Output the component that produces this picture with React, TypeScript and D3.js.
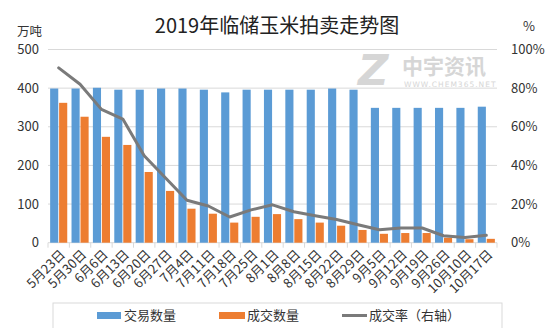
import React from "react";
import * as d3 from "d3";

const categories = ["5月23日","5月30日","6月6日","6月13日","6月20日","6月27日","7月4日","7月11日","7月18日","7月25日","8月1日","8月8日","8月15日","8月22日","8月29日","9月5日","9月12日","9月19日","9月26日","10月10日","10月17日"];
const tradeVolume = [399, 399, 401, 396, 396, 399, 399, 396, 389, 396, 396, 396, 396, 399, 396, 349, 349, 349, 349, 349, 352];
const dealVolume = [362, 326, 274, 253, 183, 134, 88, 75, 52, 67, 74, 61, 52, 44, 33, 23, 25, 25, 13, 9, 10];
const dealRate = [90.5, 82, 69, 64, 45, 33.5, 22, 19, 13.3, 17, 19.6, 16, 14, 12, 9.3, 6.7, 7.6, 7.6, 3.6, 2.7, 3.8];
const leftTicks = [0, 100, 200, 300, 400, 500];
const rightTicks = [0, 20, 40, 60, 80, 100];

const FONT = "'Noto Sans CJK SC', 'Noto Sans', sans-serif";
const BLUE = "#5b9bd5";
const ORANGE = "#ed7d31";
const GRAY = "#7a7a7a";
const GRID = "#d9d9d9";

export default function App() {
  const W = 554, H = 328;
  const x0 = 48, x1 = 497, yTop = 49.5, yBot = 242.7;
  const x = d3.scaleBand<string>().domain(categories).range([x0, x1]).paddingInner(0).paddingOuter(0);
  const yL = d3.scaleLinear().domain([0, 500]).range([yBot, yTop]);
  const yR = d3.scaleLinear().domain([0, 100]).range([yBot, yTop]);
  const bw = x.bandwidth();
  const barW = bw * 0.38;
  const line = d3.line<number>()
    .x((_, i) => (x(categories[i]) as number) + bw / 2)
    .y((d) => yR(d));

  return (
    <svg width={W} height={H} style={{ position: "absolute", left: 0, top: 0, fontFamily: FONT }}>
      <rect x={0} y={0} width={W} height={H} fill="#fff" />
      {/* title */}
      <text x={277} y={33} textAnchor="middle" fontSize={20} fill="#222">2019年临储玉米拍卖走势图</text>
      <text x={17} y={35.5} fontSize={12.5} fill="#333">万吨</text>
      <text x={523} y={31} fontSize={13} fill="#333">%</text>
      {/* gridlines */}
      {leftTicks.map((t) => (
        <line key={"g" + t} x1={x0} x2={x1} y1={yL(t)} y2={yL(t)} stroke={GRID} strokeWidth={1} />
      ))}
      {/* watermark */}
      <g fill="#d2d2d2" opacity={0.9}>
        <text x={358} y={85} fontSize={42} fontWeight={900} fontStyle="italic" fontFamily="'DejaVu Sans', sans-serif">Z</text>
        <text x={402} y={74} fontSize={21} fontWeight={700}>中宇资讯</text>
        <text x={404} y={87} fontSize={7.5} letterSpacing={1} fontFamily="'DejaVu Sans', sans-serif">WWW.CHEM365.NET</text>
      </g>
      {/* left labels */}
      {leftTicks.map((t) => (
        <text key={"l" + t} x={39} y={yL(t)} dy="0.35em" textAnchor="end" fontSize={13} fill="#333">{t}</text>
      ))}
      {rightTicks.map((t) => (
        <text key={"r" + t} x={511} y={yR(t)} dy="0.35em" textAnchor="start" fontSize={13} fill="#333">{t + "%"}</text>
      ))}
      {/* bars */}
      {categories.map((c, i) => {
        const bx = x(c) as number;
        return (
          <g key={c}>
            <rect x={bx + bw * 0.1} y={yL(tradeVolume[i])} width={barW} height={yBot - yL(tradeVolume[i])} fill={BLUE} />
            <rect x={bx + bw * 0.52} y={yL(dealVolume[i])} width={barW} height={yBot - yL(dealVolume[i])} fill={ORANGE} />
          </g>
        );
      })}
      {/* axis ticks */}
      {categories.concat([""]).map((c, i) => {
        const tx = x0 + i * bw;
        return <line key={"t" + i} x1={tx} x2={tx} y1={yBot} y2={yBot + 5} stroke={GRID} />;
      })}
      <path d={line(dealRate) || ""} fill="none" stroke={GRAY} strokeWidth={3} strokeLinejoin="round" strokeLinecap="round" />
      {/* x labels */}
      {categories.map((c) => {
        const cx = (x(c) as number) + bw / 2 + 4;
        const cy = 252;
        return (
          <text key={"x" + c} transform={`translate(${cx},${cy}) rotate(-45)`} textAnchor="end" dy="0.35em" fontSize={13} fill="#333">{c}</text>
        );
      })}
      {/* legend */}
      <rect x={53} y={303} width={449} height={40} fill="none" stroke={GRID} />
      <rect x={97} y={312} width={24} height={7} fill={BLUE} />
      <text x={124} y={315.5} dy="0.35em" fontSize={13} fill="#333">交易数量</text>
      <rect x={219} y={312} width={26} height={7} fill={ORANGE} />
      <text x={247} y={315.5} dy="0.35em" fontSize={13} fill="#333">成交数量</text>
      <line x1={342} x2={367} y1={315.5} y2={315.5} stroke={GRAY} strokeWidth={3} />
      <text x={369} y={315.5} dy="0.35em" fontSize={13} fill="#333">成交率（右轴）</text>
    </svg>
  );
}
